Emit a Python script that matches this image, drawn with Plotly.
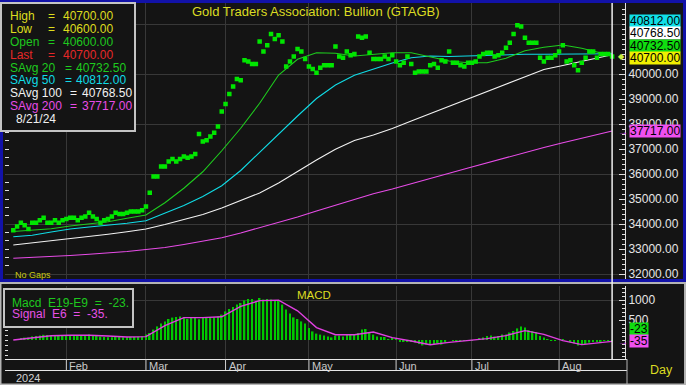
import plotly.graph_objects as go
import pandas as pd

W, H = 686, 385
FONT = "Arial, 'Liberation Sans', sans-serif"

# ---------------- data ----------------
dates = [d.strftime("%Y-%m-%d") for d in pd.bdate_range("2024-01-12", "2024-08-21")]

close = [
    33750, 33900, 34050, 33950, 33800, 34050, 34050, 34150, 34250, 34050,
    34050, 34150, 34050, 34150, 34200, 34250, 34250, 34150, 34250, 34300,
    34450, 34300, 34200, 34050, 34150, 34200, 34300, 34450, 34400, 34400,
    34450, 34500, 34500, 34500, 34550, 34700, 35250, 35900, 35900, 36300,
    36300, 36500, 36600, 36500, 36600, 36700, 36650, 36700, 36800, 37600,
    37300, 37350, 37500, 37650, 37900, 38500, 38800, 39200, 39500, 39800,
    39750, 40550, 40500, 40400, 40400, 41300, 40900, 41150, 41600, 41400,
    41550, 41300, 40300, 40500, 40700, 41000, 40900, 40600, 40300, 40200,
    40050, 40250, 40350, 40350, 40350, 41100, 40700, 40650, 40900, 40750,
    40800, 41500, 41450, 41500, 40850, 40600, 40600, 40600, 40700, 40600,
    40750, 40500, 40350, 40450, 40700, 40400, 40050, 40100, 40100, 40100,
    40350, 40400, 40250, 40550, 40500, 40900, 40450, 40450, 40350, 40300,
    40450, 40450, 40500, 40700, 40800, 40850, 40850, 40700, 40750, 40850,
    41050, 41250, 41600, 41950, 41900, 41450, 41250, 41250, 41250, 40650,
    40500, 40650, 40650, 40750, 40900, 41150, 40500, 40550, 40350, 40150,
    40450, 40650, 40900, 40900, 40650, 40800, 40800, 40800, 40700,
]

macd = [
    0, 25, 50, 60, 60, 90, 100, 115, 130, 125,
    115, 115, 115, 115, 125, 125, 125, 115, 115, 125,
    135, 125, 115, 85, 75, 70, 70, 75, 75, 70,
    70, 75, 75, 80, 85, 135, 175, 260, 340, 410,
    465, 525, 560, 575, 590, 560, 525, 560, 560, 520,
    570, 560, 550, 565, 590, 635, 715, 775, 825, 885,
    925, 990, 1025, 1025, 965, 1050, 1010, 1025, 1010, 990,
    990, 885, 760, 660, 565, 525, 465, 410, 300, 215,
    160, 135, 110, 90, 65, 110, 110, 90, 125, 135,
    135, 175, 260, 275, 190, 135, 90, 75, 75, 25,
    50, 10, -50, -50, -30, -50, -65, -100, -135, -115,
    -115, -115, -85, -115, -65, 0, -15, -15, -15, -15,
    -15, -15, 0, 35, 65, 100, 115, 85, 100, 135,
    140, 185, 225, 290, 335, 310, 250, 225, 200, 100,
    60, 15, -25, -25, 0, 15, 0, -50, -85, -135,
    -115, -100, -65, -50, -50, -35, -25, -15, -23,
]

ma_dates = [
    "2024-01-12", "2024-01-19", "2024-01-26", "2024-02-02", "2024-02-09", "2024-02-16",
    "2024-02-23", "2024-03-01", "2024-03-08", "2024-03-15", "2024-03-22", "2024-03-29",
    "2024-04-05", "2024-04-12", "2024-04-19", "2024-04-26", "2024-05-03", "2024-05-10",
    "2024-05-17", "2024-05-24", "2024-05-31", "2024-06-07", "2024-06-14", "2024-06-21",
    "2024-06-28", "2024-07-05", "2024-07-12", "2024-07-19", "2024-07-26", "2024-08-02",
    "2024-08-09", "2024-08-16", "2024-08-21",
]
sma20 = [33700, 33740, 33810, 33920, 34000, 34090, 34230, 34360, 34850, 35430, 36090,
         36930, 37830, 38830, 39960, 40590, 40850, 40830, 40720, 40800, 40850, 40850,
         40670, 40520, 40450, 40450, 40630, 40930, 41070, 41160, 41030, 40850, 40732.5]
sma50 = [33490, 33550, 33680, 33800, 33880, 33950, 34030, 34130, 34450, 34740, 35100,
         35530, 36140, 36870, 37630, 38320, 39020, 39560, 39950, 40200, 40440, 40650,
         40720, 40700, 40720, 40770, 40780, 40790, 40790, 40800, 40800, 40810, 40812]
sma100 = [33160, 33240, 33320, 33400, 33500, 33590, 33690, 33800, 33980, 34190, 34380,
          34640, 34940, 35240, 35640, 36110, 36560, 36990, 37340, 37560, 37820, 38120,
          38410, 38710, 39000, 39300, 39600, 39890, 40180, 40340, 40500, 40660, 40768.5]
sma200 = [32630, 32660, 32700, 32740, 32790, 32840, 32900, 32980, 33060, 33180, 33300,
          33450, 33640, 33850, 34050, 34280, 34520, 34760, 34990, 35210, 35400, 35620,
          35840, 36030, 36240, 36450, 36660, 36870, 37060, 37250, 37440, 37610, 37717]
signal = [0, 55, 105, 117, 120, 100, 75, 85, 360, 560, 560, 580, 840, 985, 995, 730,
          310, 133, 133, 200, 60, -25, -120, -60, -20, 33, 110, 235, 140, -15, -115, -65, -35]

last_high, last_low, last_open = 40700, 40600, 40600

price_ticks = [32000, 33000, 34000, 35000, 36000, 37000, 38000, 39000, 40000]
macd_ticks = [500, 1000]

month_starts = ["2024-02-01", "2024-03-01", "2024-04-01", "2024-05-01",
                "2024-06-03", "2024-07-01", "2024-08-01"]
month_labels = ["Feb", "Mar", "Apr", "May", "Jun", "Jul", "Aug"]
year_label = "2024"
title_text = "Gold Traders Association: Bullion (GTAGB)"

# ---------------- styling ----------------
BG = "#141414"
GRID = "#383838"
AXC = "#e0e0e0"
C20, C50, C100, C200 = "#1ecc1e", "#10dce6", "#f2f2f2", "#e84ce8"
YEL = "#dcdc22"


def px(x):
    return x / W


def py(y):
    return 1 - y / H


fig = go.Figure()
for vals, col in [(sma200, C200), (sma100, C100), (sma50, C50), (sma20, C20)]:
    fig.add_trace(go.Scatter(x=ma_dates, y=vals, mode="lines",
                             line=dict(color=col, width=1.1),
                             xaxis="x", yaxis="y", hoverinfo="skip"))
fig.add_trace(go.Scatter(x=dates, y=close, mode="markers",
                         marker=dict(symbol="square", size=4.5, color="#00e600",
                                     line=dict(width=0)),
                         xaxis="x", yaxis="y", hoverinfo="skip"))
fig.add_trace(go.Scatter(x=[dates[-1]], y=[close[-1]], mode="markers",
                         marker=dict(opacity=0), xaxis="x", yaxis="y3", hoverinfo="skip"))
fig.add_trace(go.Bar(x=dates, y=macd, width=0.42,
                     marker=dict(color="#00c800", line=dict(width=0)),
                     xaxis="x2", yaxis="y2", hoverinfo="skip"))
fig.add_trace(go.Scatter(x=ma_dates, y=signal, mode="lines",
                         line=dict(color="#e040e0", width=1.4),
                         xaxis="x2", yaxis="y2", hoverinfo="skip"))
fig.add_trace(go.Scatter(x=[dates[-1]], y=[macd[-1]], mode="markers",
                         marker=dict(opacity=0), xaxis="x2", yaxis="y4", hoverinfo="skip"))

xdom = [px(5), px(625)]
price_dom = [py(281), py(3)]
macd_dom = [py(359), py(286)]
xr = [-2.19, 161.4]
prange = [31720, 42840]
mrange = [-475, 1350]

common_x = dict(type="category", categoryorder="array", categoryarray=dates,
                range=xr, domain=xdom, showticklabels=False, ticks="",
                tickmode="array", tickvals=month_starts, showgrid=True,
                gridcolor=GRID, gridwidth=1, zeroline=False, showline=False)

fig.update_layout(
    width=W, height=H, margin=dict(l=0, r=0, t=0, b=0),
    paper_bgcolor=BG, plot_bgcolor=BG, showlegend=False, hovermode=False,
    font=dict(family=FONT, color=AXC),
    xaxis=dict(**common_x, anchor="y"),
    xaxis2=dict(**common_x, anchor="y2", matches="x"),
    yaxis=dict(domain=price_dom, range=prange, anchor="x", side="left",
               tickmode="linear", tick0=0, dtick=2000, showgrid=True, gridcolor=GRID,
               showticklabels=False, ticks="", zeroline=False, showline=False,
               minor=dict(tickmode="linear", tick0=32000, dtick=1000 / 3, ticks="inside",
                          ticklen=4, tickcolor=AXC, showgrid=False)),
    yaxis3=dict(range=prange, anchor="x", overlaying="y", side="right",
                tickmode="array", tickvals=price_ticks,
                ticktext=[f"{v:.2f}" for v in price_ticks],
                ticks="inside", ticklen=6, tickcolor=AXC,
                tickfont=dict(family=FONT, size=12, color="#e6e6e6"),
                showline=True, linecolor=AXC, linewidth=1, showgrid=False, zeroline=False,
                minor=dict(tickmode="linear", tick0=0, dtick=200, ticks="inside", ticklen=3,
                           tickcolor=AXC, showgrid=False)),
    yaxis2=dict(domain=macd_dom, range=mrange, anchor="x2", side="left",
                tickmode="array", tickvals=[1000], showgrid=True, gridcolor=GRID,
                showticklabels=False, ticks="", zeroline=False, showline=False,
                minor=dict(tickmode="linear", tick0=0, dtick=125, ticks="inside",
                           ticklen=3, tickcolor=AXC, showgrid=False)),
    yaxis4=dict(range=mrange, anchor="x2", overlaying="y2", side="right",
                tickmode="array", tickvals=macd_ticks,
                ticktext=[str(v) for v in macd_ticks],
                ticks="inside", ticklen=6, tickcolor=AXC,
                tickfont=dict(family=FONT, size=12, color="#e6e6e6"),
                showline=True, linecolor=AXC, linewidth=1, showgrid=False, zeroline=False,
                minor=dict(tickmode="linear", tick0=0, dtick=100, ticks="inside", ticklen=3,
                           tickcolor=AXC, showgrid=False)),
)

shapes = []


def rect(x0, y0, x1, y1, line, width, fill=None):
    d = dict(type="rect", xref="paper", yref="paper", x0=px(x0), x1=px(x1),
             y0=py(y1), y1=py(y0), line=dict(color=line, width=width), layer="above")
    if fill:
        d["fillcolor"] = fill
    return d


def hline(x0, x1, y, color, width=1):
    return dict(type="line", xref="paper", yref="paper", x0=px(x0), x1=px(x1),
                y0=py(y), y1=py(y), line=dict(color=color, width=width), layer="above")


# panel frames
shapes.append(rect(0.5, 283, 685, 384.5, "#b4b4b4", 2))
shapes.append(rect(1.5, 1.5, 684.5, 280.5, "#1212a8", 3))
# legend boxes
shapes.append(rect(1, 3, 135, 131, "#c4c4c4", 2, BG))
shapes.append(rect(4, 289, 133, 327, "#c4c4c4", 2, BG))
# bottom time band
shapes.append(hline(5, 627, 359.5, "#e6e6e6"))
shapes.append(hline(5, 627, 370.5, "#e6e6e6"))
shapes.append(dict(type="line", xref="paper", yref="paper", x0=px(627), x1=px(627),
                   y0=py(385), y1=py(359), line=dict(color="#b4b4b4", width=1), layer="above"))
for m in month_starts:
    shapes.append(dict(type="line", xref="x2", yref="paper", x0=m, x1=m,
                       y0=py(370), y1=py(359.5), line=dict(color="#d0d0d0", width=1),
                       layer="above"))
# cursor line at the last bar
shapes.append(dict(type="line", xref="x", yref="paper", x0=dates[-1], x1=dates[-1],
                   y0=py(359), y1=py(3), line=dict(color="#f0f0f0", width=1.5),
                   layer="above"))

ann = []


def txt(text, x, y, color, size=12, xanchor="left", **kw):
    d = dict(text=text, x=px(x), y=py(y), xref="paper", yref="paper", showarrow=False,
             font=dict(family=FONT, size=size, color=color), xanchor=xanchor,
             yanchor="middle")
    d.update(kw)
    return d


ann.append(txt(title_text, 316, 11, YEL, 13, xanchor="center"))
ann.append(txt("No Gaps", 13, 275, "#c8c814", 9))

# price legend
rows = [
    ("High", last_high, "#dede1e", 46, 61),
    ("Low", last_low, "#dede1e", 46, 61),
    ("Open", last_open, "#1ec81e", 46, 61),
    ("Last", close[-1], "#e62828", 46, 61),
    ("SAvg 20", sma20[-1], C20, 63, 74),
    ("SAvg 50", sma50[-1], C50, 63, 74),
    ("SAvg 100", sma100[-1], C100, 68, 80),
    ("SAvg 200", sma200[-1], C200, 68, 80),
]
for i, (lab, val, col, xe, xv) in enumerate(rows):
    yy = 15.7 + 12.95 * i
    ann.append(txt(lab, 8, yy, col))
    ann.append(txt("=", xe, yy, col))
    ann.append(txt(f"{val:.2f}", xv, yy, col))
d_last = pd.Timestamp(dates[-1])
ann.append(txt(f"{d_last.month}/{d_last.day}/{d_last.strftime('%y')}", 14, 15.7 + 12.95 * 8, "#f0f0f0"))

# MACD title / legend
ann.append(txt("MACD", 314, 295, YEL, 11.5, xanchor="center"))
ann.append(txt(f"Macd  E19-E9  =  {macd[-1]:.0f}.", 10, 302.5, "#1ec81e", 12))
ann.append(txt(f"Signal  E6  =  {signal[-1]:.0f}.", 10, 313.5, "#e650e6", 12))

# value tags on the right scale
tags = [
    (sma50[-1], "#10e0e8", 32.7),
    (sma100[-1], "#ffffff", 21.3),
    (sma20[-1], "#10dc10", 9.7),
    (close[-1], "#f0f000", -1.5),
    (sma200[-1], "#f050f0", 0),
]
for val, col, sh in tags:
    ann.append(dict(text=f"{val:.2f}", x=px(629), xref="paper", y=val, yref="y3",
                    showarrow=False, xanchor="left", yanchor="middle", yshift=sh,
                    bgcolor=col, borderpad=0, height=12, valign="middle",
                    font=dict(family=FONT, size=12, color="#000000")))
for val, col, sh in [(macd[-1], "#10dc10", 11.6), (signal[-1], "#f050f0", 0)]:
    ann.append(dict(text=f"{val:.0f}", x=px(629), xref="paper", y=val, yref="y4",
                    showarrow=False, xanchor="left", yanchor="middle", yshift=sh,
                    bgcolor=col, borderpad=0, height=12, valign="middle",
                    font=dict(family=FONT, size=12, color="#000000")))

# small pointer arrows next to the last values
ann.append(dict(text="→", x=px(616), xref="paper", y=sma200[-1], yref="y3",
                showarrow=False, xanchor="left", yanchor="middle",
                font=dict(family=FONT, size=10, color="#f050f0")))
ann.append(dict(text="→", x=px(616), xref="paper", y=signal[-1], yref="y4",
                showarrow=False, xanchor="left", yanchor="middle",
                font=dict(family=FONT, size=10, color="#f050f0")))
ann.append(dict(text="◆", x=px(616), xref="paper", y=close[-1], yref="y3",
                showarrow=False, xanchor="left", yanchor="middle",
                font=dict(family=FONT, size=8, color="#c8f040")))

# month labels, year, period
for m, lab in zip(month_starts, month_labels):
    ann.append(dict(text=lab, x=m, xref="x2", y=py(365.5), yref="paper",
                    showarrow=False, xanchor="left", yanchor="middle", xshift=1,
                    font=dict(family=FONT, size=11, color="#c8c8c8")))
ann.append(txt(year_label, 14, 377.5, "#d2d2d2", 11))
ann.append(txt("Day", 661, 370, YEL, 12.5, xanchor="center"))

fig.update_layout(shapes=shapes, annotations=ann)
fig.write_html("out.html", config={"displayModeBar": False},
               post_script="document.body.style.margin='0px';document.body.style.overflow='hidden';")
